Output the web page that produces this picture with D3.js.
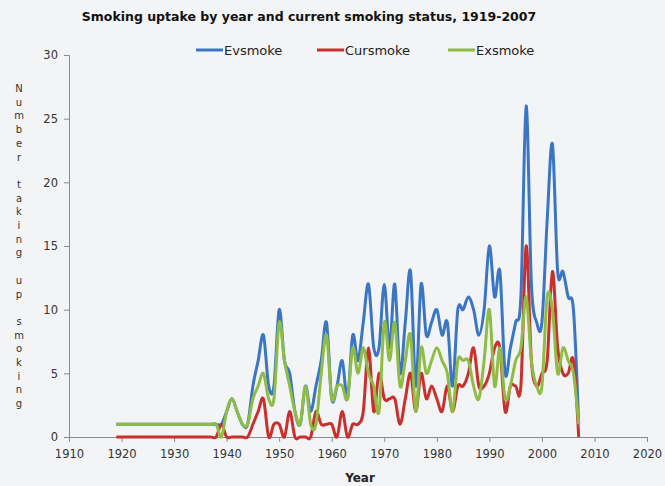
<!DOCTYPE html>
<html>
<head>
<meta charset="utf-8">
<script src="https://cdn.jsdelivr.net/npm/d3@7"></script>
<style>
  body { margin: 0; background: #f3f4f5; }
  svg { display: block; }
  .tick text { font-family: "DejaVu Sans", Verdana, sans-serif; fill: #333; }
</style>
</head>
<body>
<div id="vis"></div>
<script>
var years = [
  1919, 1920, 1921, 1922, 1923, 1924, 1925, 1926, 1927, 1928,
  1929, 1930, 1931, 1932, 1933, 1934, 1935, 1936, 1937, 1938,
  1939, 1940, 1941, 1942, 1943, 1944, 1945, 1946, 1947, 1948,
  1949, 1950, 1951, 1952, 1953, 1954, 1955, 1956, 1957, 1958,
  1959, 1960, 1961, 1962, 1963, 1964, 1965, 1966, 1967, 1968,
  1969, 1970, 1971, 1972, 1973, 1974, 1975, 1976, 1977, 1978,
  1979, 1980, 1981, 1982, 1983, 1984, 1985, 1986, 1987, 1988,
  1989, 1990, 1991, 1992, 1993, 1994, 1995, 1996, 1997, 1998,
  1999, 2000, 2001, 2002, 2003, 2004, 2005, 2006, 2007
];

var evsmoke = [
  1, 1, 1, 1, 1, 1, 1, 1, 1, 1,
  1, 1, 1, 1, 1, 1, 1, 1, 1, 1,
  1, 2, 3, 2, 1, 1, 4, 6, 8, 4,
  4, 10, 6, 5, 2, 1, 4, 2, 4, 6,
  9, 3, 4, 6, 3, 8, 6, 9, 12, 7,
  7, 12, 7, 12, 5, 9, 13, 4, 12, 8,
  9, 10, 8, 9, 4, 10, 10, 11, 10, 8,
  10, 15, 11, 13, 5, 7, 9, 11, 26, 12,
  9, 9, 17, 23, 13, 13, 11, 10, 1
];

var cursmoke = [
  0, 0, 0, 0, 0, 0, 0, 0, 0, 0,
  0, 0, 0, 0, 0, 0, 0, 0, 0, 0,
  1, 0, 0, 0, 0, 0, 1, 2, 3, 0,
  1, 1, 0, 2, 0, 0, 0, 0, 2, 1,
  1, 1, 0, 2, 0, 1, 1, 2, 7, 2,
  5, 3, 3, 3, 1, 3, 5, 2, 5, 3,
  4, 3, 2, 4, 2, 4, 4, 5, 7, 4,
  4, 5, 7, 7, 2, 4, 4, 4, 15, 6,
  4, 5, 6, 13, 7, 5, 5, 6, 0
];

var exsmoke = [
  1, 1, 1, 1, 1, 1, 1, 1, 1, 1,
  1, 1, 1, 1, 1, 1, 1, 1, 1, 1,
  0, 2, 3, 2, 1, 1, 3, 4, 5, 3,
  3, 9, 6, 4, 2, 1, 4, 1, 1, 5,
  8, 3, 4, 4, 3, 7, 5, 7, 5, 4,
  2, 9, 6, 9, 4, 6, 8, 2, 7, 5,
  6, 7, 6, 5, 2, 6, 6, 6, 4, 3,
  6, 10, 4, 7, 3, 4, 6, 7, 11, 6,
  4, 4, 11, 10, 5, 7, 6, 5, 1
];

var seriesNames = ["Evsmoke", "Cursmoke", "Exsmoke"];
var seriesColors = ["#3a76c4", "#c8302d", "#8fbc45"];
var xTicks = [1910, 1920, 1930, 1940, 1950, 1960, 1970, 1980, 1990, 2000, 2010, 2020];
var yTicks = [0, 5, 10, 15, 20, 25, 30];
var yTitle = "Number taking up smoking";

var width = 665, height = 486;
var margin = {top: 55, right: 18, bottom: 49, left: 69};

var x = d3.scaleLinear()
          .domain([1910, 2020])
          .range([margin.left, width - margin.right]);

var y = d3.scaleLinear()
          .domain([0, 30])
          .range([height - margin.bottom, margin.top]);

var svg = d3.select("#vis").append("svg")
    .attr("width", width)
    .attr("height", height);

svg.append("rect")
    .attr("width", width)
    .attr("height", height)
    .attr("fill", "#f3f4f5");

// axes
var xAxis = svg.append("g")
    .attr("transform", "translate(0," + y(0) + ")")
    .call(d3.axisBottom(x).tickValues(xTicks).tickFormat(d3.format("d")).tickSize(5).tickPadding(8));

var yAxis = svg.append("g")
    .attr("transform", "translate(" + x(1910) + ",0)")
    .call(d3.axisLeft(y).tickValues(yTicks).tickSize(5).tickPadding(6));

[xAxis, yAxis].forEach(function(g) {
  g.selectAll("path, line").attr("stroke", "#8a8a8a");
  g.selectAll("text").attr("font-size", "11.5px");
});

// lines, drawn in series order so Exsmoke ends up on top
var series = [evsmoke, cursmoke, exsmoke];

var line = d3.line()
    .x(function(d, i) { return x(years[i]); })
    .y(function(d) { return y(d); })
    .curve(d3.curveCardinal.tension(0));

svg.selectAll(".series")
  .data(series)
  .enter().append("path")
    .attr("class", "series")
    .attr("d", line)
    .attr("fill", "none")
    .attr("stroke", function(d, i) { return seriesColors[i]; })
    .attr("stroke-width", 3)
    .attr("stroke-linejoin", "round");

// title
svg.append("text")
    .attr("x", 309)
    .attr("y", 21)
    .attr("text-anchor", "middle")
    .attr("font-family", "DejaVu Sans, Verdana, sans-serif")
    .attr("font-weight", "bold")
    .attr("font-size", "12.5px")
    .attr("fill", "#111")
    .text("Smoking uptake by year and current smoking status, 1919-2007");

// legend
var legendX = [196, 317, 448];
var legend = svg.selectAll(".legend")
  .data(seriesNames)
  .enter().append("g")
    .attr("class", "legend")
    .attr("transform", function(d, i) { return "translate(" + legendX[i] + ",50)"; });

legend.append("line")
    .attr("x1", 0).attr("x2", 27)
    .attr("stroke", function(d, i) { return seriesColors[i]; })
    .attr("stroke-width", 3);

legend.append("text")
    .attr("x", 28)
    .attr("dy", "0.35em")
    .attr("font-family", "DejaVu Sans, Verdana, sans-serif")
    .attr("font-size", "13px")
    .attr("fill", "#222")
    .text(function(d) { return d; });

// stacked y title, one letter per line
svg.append("g")
  .selectAll("text")
  .data(yTitle.split(""))
  .enter().append("text")
    .attr("x", 19)
    .attr("y", function(d, i) { return 92 + i * 13.7; })
    .attr("text-anchor", "middle")
    .attr("font-family", "DejaVu Sans, Verdana, sans-serif")
    .attr("font-size", "10px")
    .attr("fill", "#333")
    .text(function(d) { return d; });

// x title
svg.append("text")
    .attr("x", 360)
    .attr("y", 482)
    .attr("text-anchor", "middle")
    .attr("font-family", "DejaVu Sans, Verdana, sans-serif")
    .attr("font-weight", "bold")
    .attr("font-size", "12px")
    .attr("fill", "#222")
    .text("Year");
</script>
</body>
</html>
